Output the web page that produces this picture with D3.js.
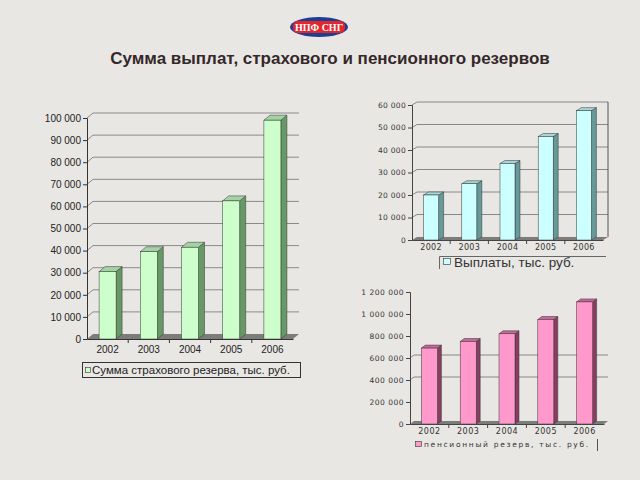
<!DOCTYPE html>
<html>
<head>
<meta charset="utf-8">
<script src="https://cdn.jsdelivr.net/npm/d3@7"></script>
<style>
  body { margin: 0; background: #e9e7e4; }
  svg { display: block; }
</style>
</head>
<body>
<div id="chart"></div>
<script>
// data
const years = ["2002", "2003", "2004", "2005", "2006"];
const insuranceReserve = [30500, 39500, 41500, 62500, 99000];
const payouts = [20000, 25000, 34000, 46000, 57500];
const pensionReserve = [690000, 750000, 820000, 950000, 1110000];

const insuranceTicks = [0, 10000, 20000, 30000, 40000, 50000, 60000, 70000, 80000, 90000, 100000];
const payoutTicks = [0, 10000, 20000, 30000, 40000, 50000, 60000];
const pensionTicks = [0, 200000, 400000, 600000, 800000, 1000000, 1200000];
const pensionGrid = [400000, 600000];

const title = "Сумма выплат, страхового и пенсионного резервов";
const insuranceLabel = "Сумма страхового резерва, тыс. руб.";
const payoutLabel = "Выплаты, тыс. руб.";
const pensionLabel = "пенсионный резерв, тыс. руб.";

const fmt = d3.formatLocale({decimal: ",", thousands: " ", grouping: [3], currency: ["", ""]}).format(",");

const svg = d3.select("#chart").append("svg").attr("width", 640).attr("height", 480);
svg.append("rect").attr("width", 640).attr("height", 480).attr("fill", "#e9e7e4");

// logo
const logo = svg.append("g").attr("transform", "translate(319,27)");
logo.append("ellipse").attr("rx", 29).attr("ry", 10).attr("fill", "#1d3f93");
logo.append("rect").attr("x", -26).attr("y", -6).attr("width", 52).attr("height", 12).attr("rx", 5)
  .attr("fill", "#e3262c");
logo.append("text").attr("text-anchor", "middle").attr("dy", "0.35em")
  .attr("font-family", "Liberation Serif").attr("font-weight", "bold").attr("font-size", 10)
  .attr("fill", "#fff").text("НПФ СНГ");

svg.append("text").attr("x", 330).attr("y", 64).attr("text-anchor", "middle")
  .attr("font-family", "Liberation Sans, Arial").attr("font-weight", "bold").attr("font-size", 17)
  .attr("fill", "#35282a").text(title);

function chart3d(o) {
  const g = svg.append("g");
  const x = d3.scaleBand().domain(years).range([o.x0, o.x1]);
  const y = d3.scaleLinear().domain(o.domain).range([o.base, o.top]);
  const [dx, dy] = o.depth;
  const backRight = o.x1 + dx;

  // gridlines on the back wall
  g.selectAll(".grid").data(o.grid).join("path")
    .attr("fill", "none").attr("stroke", o.gridColor).attr("stroke-width", 1)
    .attr("d", d => `M${o.x0},${y(d)}l${dx},${-dy}H${backRight}`);

  if (o.rightWall) {
    g.append("line").attr("x1", backRight).attr("x2", backRight)
      .attr("y1", y(o.domain[1]) - dy).attr("y2", o.base - dy)
      .attr("stroke", "#555");
  }

  // floor
  g.append("path").attr("fill", "#7c7c7a")
    .attr("d", `M${o.x0},${o.base}l${dx},${-dy}H${backRight}l${-dx},${dy}Z`);

  // bars
  const bars = g.selectAll(".bar").data(o.values).join("g");
  const bx = (d, i) => x(years[i]) + (x.bandwidth() - o.barW) / 2;
  bars.append("path").attr("fill", o.colors[1]).attr("stroke", "#333").attr("stroke-width", 0.5)
    .attr("d", (d, i) => `M${bx(d, i) + o.barW},${y(d)}l${dx},${-dy}V${o.base - dy}l${-dx},${dy}Z`);
  bars.append("path").attr("fill", o.colors[2]).attr("stroke", "#333").attr("stroke-width", 0.5)
    .attr("d", (d, i) => `M${bx(d, i)},${y(d)}l${dx},${-dy}h${o.barW}l${-dx},${dy}Z`);
  bars.append("rect").attr("fill", o.colors[0]).attr("stroke", "#333").attr("stroke-width", 0.5)
    .attr("x", bx).attr("y", d => y(d)).attr("width", o.barW).attr("height", d => o.base - y(d));

  // y axis
  const ya = g.append("g").attr("transform", `translate(${o.x0},0)`)
    .call(d3.axisLeft(y).tickValues(o.ticks).tickSize(4).tickPadding(2).tickFormat(fmt));
  ya.select(".domain").attr("stroke", o.axisColor);
  ya.selectAll(".tick line").attr("stroke", o.axisColor);
  ya.selectAll("text").attr("font-family", o.font).attr("font-size", o.fontSize)
    .attr("letter-spacing", o.spacing).attr("fill", o.textColor);

  // x axis
  const xa = g.append("g").attr("transform", `translate(0,${o.base})`)
    .call(d3.axisBottom(x).tickSize(0).tickPadding(o.xPad));
  xa.select(".domain").attr("stroke", o.axisColor);
  xa.selectAll("text").attr("font-family", o.font).attr("font-size", o.xFontSize)
    .attr("letter-spacing", o.spacing).attr("fill", o.textColor);
  g.selectAll(".xt").data(years.slice(1)).join("line")
    .attr("x1", d => x(d)).attr("x2", d => x(d))
    .attr("y1", o.base).attr("y2", o.base + 4).attr("stroke", o.axisColor);
  return g;
}

chart3d({
  x0: 87, x1: 293, base: 339, top: 118, domain: [0, 100000],
  values: insuranceReserve, ticks: insuranceTicks, grid: insuranceTicks.slice(1),
  depth: [6, 5], barW: 17, colors: ["#ccffcc", "#669966", "#a3d3a3"],
  gridColor: "#8a8a8a", axisColor: "#333", textColor: "#222",
  font: "Liberation Sans, Arial", fontSize: 10, xFontSize: 10, spacing: 0, xPad: 7
});

chart3d({
  x0: 412, x1: 603, base: 240, top: 105, domain: [0, 60000],
  values: payouts, ticks: payoutTicks, grid: payoutTicks.slice(1),
  depth: [5, 3], barW: 15, colors: ["#ccffff", "#669999", "#a6d6d6"],
  gridColor: "#888", axisColor: "#444", textColor: "#333", rightWall: true,
  font: "DejaVu Sans", fontSize: 7.5, xFontSize: 8, spacing: 0.3, xPad: 4
});

chart3d({
  x0: 410, x1: 604, base: 424, top: 292, domain: [0, 1200000],
  values: pensionReserve, ticks: pensionTicks, grid: pensionGrid,
  depth: [4, 3], barW: 16, colors: ["#ff99cc", "#8a3d62", "#c9679a"],
  gridColor: "#888", axisColor: "#444", textColor: "#333",
  font: "DejaVu Sans", fontSize: 7.5, xFontSize: 8, spacing: 0.5, xPad: 4
});

// legends
const leg1 = svg.append("g");
leg1.append("rect").attr("x", 82.5).attr("y", 362.5).attr("width", 218).attr("height", 15)
  .attr("fill", "none").attr("stroke", "#333");
leg1.append("rect").attr("x", 85.5).attr("y", 367.5).attr("width", 5).attr("height", 5)
  .attr("fill", "#ccffcc").attr("stroke", "#333").attr("stroke-width", 0.6);
leg1.append("text").attr("x", 92).attr("y", 370).attr("dy", "0.35em")
  .attr("font-family", "Liberation Sans, Arial").attr("font-size", 11.5).attr("fill", "#222")
  .text(insuranceLabel);

const leg2 = svg.append("g");
leg2.append("path").attr("d", "M439.5,269V256.5H606").attr("fill", "none").attr("stroke", "#666");
leg2.append("rect").attr("x", 443.5).attr("y", 258.5).attr("width", 7).attr("height", 6)
  .attr("fill", "#ccffff").attr("stroke", "#333").attr("stroke-width", 0.6);
leg2.append("text").attr("x", 454).attr("y", 262).attr("dy", "0.35em")
  .attr("font-family", "Liberation Sans, Arial").attr("font-size", 13.5).attr("fill", "#333")
  .text(payoutLabel);

const leg3 = svg.append("g");
leg3.append("line").attr("x1", 597.5).attr("x2", 597.5).attr("y1", 439).attr("y2", 451).attr("stroke", "#555");
leg3.append("rect").attr("x", 415.5).attr("y", 441.5).attr("width", 6).attr("height", 5)
  .attr("fill", "#ff99cc").attr("stroke", "#333").attr("stroke-width", 0.6);
leg3.append("text").attr("x", 424).attr("y", 444).attr("dy", "0.35em")
  .attr("font-family", "DejaVu Sans").attr("font-size", 7.5).attr("letter-spacing", 1.7).attr("fill", "#333")
  .text(pensionLabel);
</script>
</body>
</html>
